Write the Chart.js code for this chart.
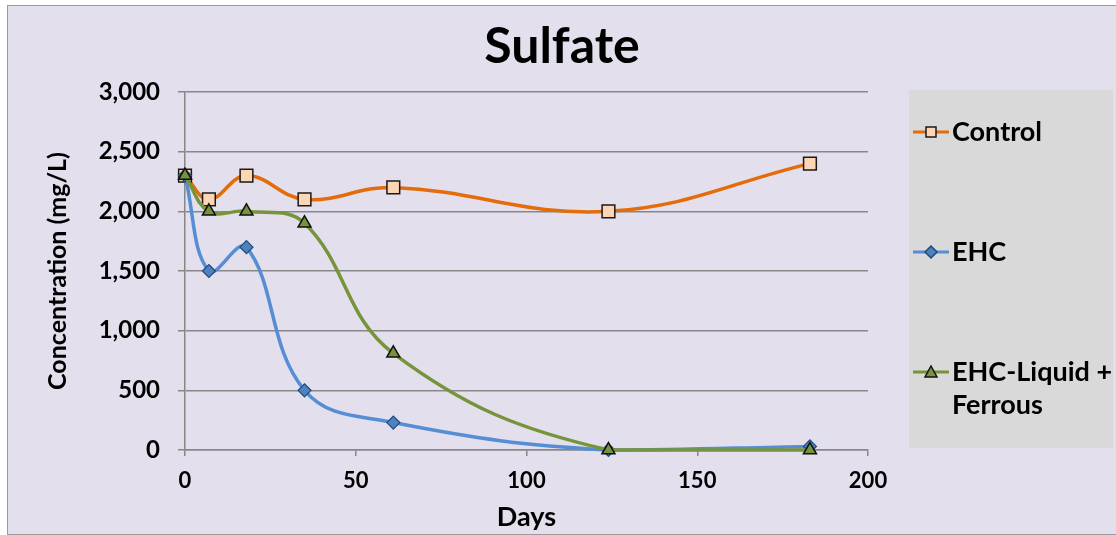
<!DOCTYPE html>
<html>
<head>
<meta charset="utf-8">
<script src="https://cdn.jsdelivr.net/npm/chart.js@4/dist/chart.umd.min.js"></script>
<style>
  html, body { margin: 0; padding: 0; background: #ffffff; overflow: hidden; }
  #frame {
    position: absolute; left: 7px; top: 5px;
    width: 1120px; height: 528px;
    border: 1px solid #9a9a9a;
    background: #E4DFEC;
  }
  #wrap { position: absolute; left: 0; top: 0; width: 1108px; height: 528px; }
</style>
</head>
<body>
<div id="frame"><div id="wrap"><canvas id="sulfate-chart"></canvas></div></div>
<script>
// Sulfate concentration over time
// ------------------------------
var days = [0, 7, 18, 35, 61, 124, 183];
var controlValues = [2300, 2100, 2300, 2100, 2200, 2000, 2400];
var ehcValues = [2300, 1500, 1700, 500, 230, 0, 30];
var ehcLiquidValues = [2300, 2000, 2000, 1900, 810, 0, 0];
var yTicks = [0, 500, 1000, 1500, 2000, 2500, 3000];
var xTicks = [0, 50, 100, 150, 200];

var FONT = "Lato, 'Open Sans', sans-serif";

function toPoints(values) {
    return values.map(function (v, i) { return { x: days[i], y: v }; });
}

// legend entries (drawn in a gray box at the right)
var legendItems = [
    { lines: ["Control"], color: "#E46C0A", fill: "#FCD5B5", border: "#1a1a1a", shape: "square", y: 126 },
    { lines: ["EHC"], color: "#558ED5", fill: "#4F81BD", border: "#1F497D", shape: "diamond", y: 246 },
    { lines: ["EHC-Liquid +", "Ferrous"], color: "#77933C", fill: "#77933C", border: "#111111", shape: "triangle", y: 366 }
];

function drawMarker(ctx, shape, x, y, s, fill, border) {
    ctx.save();
    ctx.fillStyle = fill;
    ctx.strokeStyle = border;
    ctx.lineWidth = 1.5;
    ctx.beginPath();
    if (shape === "square") {
        ctx.rect(x - s / 2, y - s / 2, s, s);
    } else if (shape === "diamond") {
        ctx.moveTo(x, y - s / 2 - 1);
        ctx.lineTo(x + s / 2 + 1, y);
        ctx.lineTo(x, y + s / 2 + 1);
        ctx.lineTo(x - s / 2 - 1, y);
        ctx.closePath();
    } else {
        ctx.moveTo(x, y - s / 2 - 1);
        ctx.lineTo(x + s / 2 + 1, y + s / 2);
        ctx.lineTo(x - s / 2 - 1, y + s / 2);
        ctx.closePath();
    }
    ctx.fill();
    ctx.stroke();
    ctx.restore();
}

var boxLegend = {
    id: "boxLegend",
    afterDraw: function (chart) {
        var ctx = chart.ctx;
        ctx.save();
        ctx.fillStyle = "#D9D9D9";
        ctx.fillRect(901, 84, 204, 358);
        legendItems.forEach(function (item) {
            ctx.strokeStyle = item.color;
            ctx.lineWidth = 3;
            ctx.beginPath();
            ctx.moveTo(905, item.y);
            ctx.lineTo(941, item.y);
            ctx.stroke();
            drawMarker(ctx, item.shape, 923, item.y, 10, item.fill, item.border);
            ctx.fillStyle = "#000000";
            ctx.font = "bold 27px " + FONT;
            ctx.textBaseline = "middle";
            ctx.textAlign = "left";
            item.lines.forEach(function (line, k) {
                ctx.fillText(line, 944, item.y + k * 33);
            });
        });
        ctx.restore();
    }
};

var chartData = {
    datasets: [{
        label: "Control",
        data: toPoints(controlValues),
        borderColor: "#E46C0A",
        borderWidth: 3.5,
        pointStyle: "rect",
        pointRadius: 9,
        pointBackgroundColor: "#FCD5B5",
        pointBorderColor: "#1a1a1a",
        pointBorderWidth: 1.5,
        tension: 0.4,
        order: 3
    }, {
        label: "EHC",
        data: toPoints(ehcValues),
        borderColor: "#558ED5",
        borderWidth: 3.5,
        pointStyle: "rectRot",
        pointRadius: 6.5,
        pointBackgroundColor: "#4F81BD",
        pointBorderColor: "#1F497D",
        pointBorderWidth: 1.2,
        tension: 0.4,
        order: 2
    }, {
        label: "EHC-Liquid + Ferrous",
        data: toPoints(ehcLiquidValues),
        borderColor: "#77933C",
        borderWidth: 3.5,
        pointStyle: "triangle",
        pointRadius: 7.5,
        pointBackgroundColor: "#77933C",
        pointBorderColor: "#111111",
        pointBorderWidth: 1.5,
        tension: 0.4,
        order: 1
    }]
};

var chartOptions = {
    responsive: true,
    maintainAspectRatio: false,
    animation: false,
    clip: false,
    layout: { padding: 0 },
    plugins: {
        legend: { display: false },
        tooltip: { enabled: false },
        title: {
            display: true,
            text: "Sulfate",
            color: "#000000",
            font: { family: FONT, size: 50, weight: "bold", lineHeight: 1.2 },
            padding: { top: 11, bottom: 15 }
        }
    },
    scales: {
        x: {
            type: "linear",
            min: 0,
            max: 200,
            afterBuildTicks: function (scale) {
                scale.ticks = xTicks.map(function (v) { return { value: v }; });
            },
            afterFit: function (scale) { scale.height = 84; },
            grid: { drawOnChartArea: false, drawTicks: true, tickLength: 6, color: "#878787", lineWidth: 1.5 },
            border: { color: "#878787", width: 1.5 },
            ticks: {
                color: "#000000",
                padding: 12,
                maxRotation: 0,
                font: { family: FONT, size: 22, weight: "bold" }
            },
            title: {
                display: true,
                text: "Days",
                color: "#000000",
                font: { family: FONT, size: 27, weight: "bold", lineHeight: 1.2 },
                padding: { top: 0, bottom: 1 }
            }
        },
        y: {
            min: 0,
            max: 3000,
            afterBuildTicks: function (scale) {
                scale.ticks = yTicks.map(function (v) { return { value: v }; });
            },
            afterFit: function (scale) { scale.width = 177; },
            grid: { color: "#878787", lineWidth: 1.5, tickLength: 7 },
            border: { color: "#878787", width: 1.5 },
            ticks: {
                color: "#000000",
                padding: 18,
                font: { family: FONT, size: 24, weight: "bold" },
                callback: function (v) { return v.toLocaleString("en-US"); }
            },
            title: {
                display: true,
                text: "Concentration (mg/L)",
                color: "#000000",
                font: { family: FONT, size: 25, weight: "bold", lineHeight: 1.2 },
                padding: { top: 35, bottom: 0 }
            }
        },
        // empty right-hand axis that keeps room for the legend box
        space: {
            position: "right",
            min: 0,
            max: 1,
            afterFit: function (scale) { scale.width = 248; },
            grid: { display: false },
            border: { display: false },
            ticks: { display: false }
        }
    }
};

var config = {
    type: "line",
    data: chartData,
    options: chartOptions,
    plugins: [boxLegend]
};

// Create the chart
var ctx = document.getElementById("sulfate-chart");
var sulfateChart = new Chart(ctx, config);
</script>
</body>
</html>
